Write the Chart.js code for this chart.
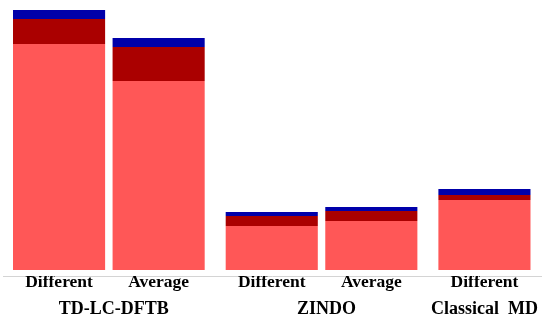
<!DOCTYPE html>
<html>
<head>
<meta charset="utf-8">
<script src="https://cdn.jsdelivr.net/npm/chart.js@4/dist/chart.umd.min.js"></script>
<style>
  html, body { margin: 0; padding: 0; background: #fff; }
  #wrap { width: 546px; height: 318px; }
</style>
</head>
<body>
<div id="wrap"><canvas id="chart"></canvas></div>
<script>
// bars, left to right
const barLabels = ["Different", "Average", "Different", "Average", "Different"];
const barGroup = [0, 0, 1, 1, 2];
const groupNames = ["TD-LC-DFTB", "ZINDO", "Classical  MD"];

// stacked parts (bottom to top)
const lightPart = [2.26, 1.89, 0.44, 0.49, 0.70];
const darkPart = [0.25, 0.34, 0.10, 0.10, 0.05];
const bluePart = [0.09, 0.09, 0.04, 0.04, 0.06];

// extra space between groups, in bar slots
const groupGap = 0.136;
const xPos = barLabels.map((_, i) => i + barGroup[i] * groupGap);

function toPoints(values) {
    return values.map((v, i) => ({ x: xPos[i], y: v }));
}

// group names under the tick labels
const groupLabelPlugin = {
    id: "groupLabels",
    afterDraw(chart) {
        const ctx = chart.ctx;
        const xs = chart.scales.x;
        ctx.save();
        ctx.font = "bold 18px 'Liberation Serif'";
        ctx.fillStyle = "#000";
        ctx.textAlign = "center";
        ctx.textBaseline = "alphabetic";
        groupNames.forEach((name, g) => {
            const px = xPos.filter((_, i) => barGroup[i] === g).map(v => xs.getPixelForValue(v));
            const cx = px.reduce((a, b) => a + b, 0) / px.length;
            ctx.fillText(name, cx + (px.length > 1 ? 5 : 0), 314);
        });
        ctx.restore();
    }
};

new Chart(document.getElementById("chart"), {
    type: "bar",
    data: {
        datasets: [
            { data: toPoints(lightPart), backgroundColor: "#ff5757" },
            { data: toPoints(darkPart), backgroundColor: "#aa0000" },
            { data: toPoints(bluePart), backgroundColor: "#0000aa" }
        ]
    },
    options: {
        responsive: true,
        maintainAspectRatio: false,
        animation: false,
        layout: { padding: { left: 3, right: 5, top: 0, bottom: 0 } },
        plugins: { legend: { display: false }, tooltip: { enabled: false } },
        datasets: { bar: { categoryPercentage: 1, barPercentage: 0.925, borderWidth: 0 } },
        scales: {
            x: {
                type: "linear",
                stacked: true,
                offset: false,
                min: -0.563,
                max: xPos[xPos.length - 1] + 0.568,
                afterBuildTicks: axis => { axis.ticks = xPos.map(v => ({ value: v })); },
                grid: { display: false, drawTicks: false },
                border: { display: true, color: "#d4d4d4", width: 1 },
                // empty title only reserves room for the group names
                title: { display: true, text: "", padding: 0, font: { size: 18, lineHeight: "30px" } },
                ticks: {
                    autoSkip: false,
                    maxRotation: 0,
                    padding: 0,
                    color: "#000",
                    font: { family: "'Liberation Serif'", size: 17.5, weight: "bold", lineHeight: "12px" },
                    callback: (value, index) => barLabels[index]
                }
            },
            y: {
                stacked: true,
                display: false,
                min: -0.06,
                max: 2.70
            }
        }
    },
    plugins: [groupLabelPlugin]
});
</script>
</body>
</html>
